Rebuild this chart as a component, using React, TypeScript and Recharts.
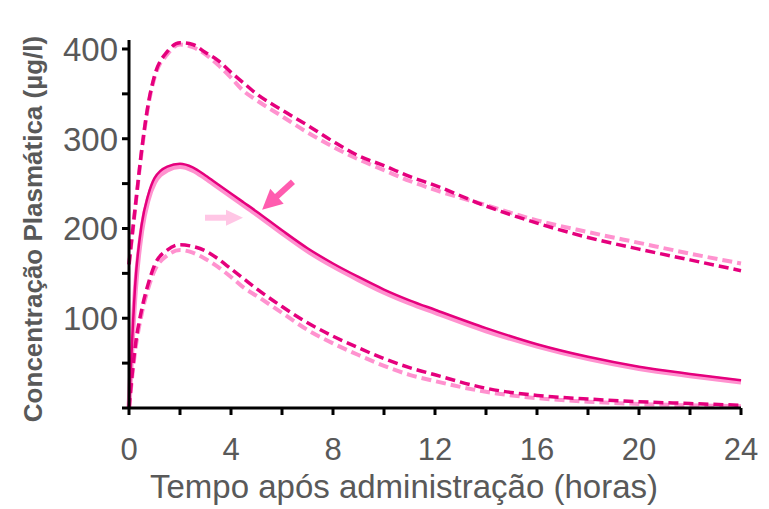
import React from 'react';
import { LineChart, Line, XAxis, YAxis, ReferenceLine } from 'recharts';

const hours = [0, 0.25, 0.5, 0.75, 1, 1.5, 2, 2.5, 3, 3.5, 4, 4.5, 5, 6, 7, 8, 9, 10, 11, 12, 14, 16, 18, 20, 22, 24];
const meanDark = [0, 140, 205, 237, 256, 269, 272, 268, 259, 249, 239, 229, 219, 198, 178, 161, 146, 132, 120, 109.5, 89, 71, 57, 46, 38, 31];
const meanLight = [0, 132, 198, 232, 251, 265, 269, 265, 256, 246, 236, 226, 216, 195, 175, 158, 143, 129, 117, 106.5, 86, 69, 55, 44, 36, 29];
const upperDark = [160, 225, 288, 338, 370, 397, 407, 405, 396, 387, 374, 362, 350, 332, 315, 297, 281, 270, 258, 248, 225, 206, 190, 177, 165, 153];
const upperLight = [160, 224, 286, 336, 368, 394, 405, 402, 394, 382, 368, 353, 343, 325, 307, 291, 277, 265, 253, 243, 226, 209, 196, 184, 172, 161];
const lowerDark = [0, 70, 110, 138, 159, 176, 182, 180, 175, 166, 155, 144, 133, 113, 95, 80, 67, 55, 45, 37, 22, 14, 10, 7, 5, 3];
const lowerLight = [0, 65, 105, 133, 153, 170, 176, 173, 166, 157, 146, 134, 125, 106, 87, 72, 59, 47, 37, 30, 18, 11, 7, 4.5, 3, 2];

const xTicks = [0, 2, 4, 6, 8, 10, 12, 14, 16, 18, 20, 22, 24];
const xLabelled = [0, 4, 8, 12, 16, 20, 24];
const yTicks = [0, 50, 100, 150, 200, 250, 300, 350, 400];
const yLabelled = [100, 200, 300, 400];

// arrows, in data units: [from, to]
const darkArrow = [{ x: 6.43, y: 252 }, { x: 5.22, y: 221 }];
const lightArrow = [{ x: 2.98, y: 212 }, { x: 4.47, y: 212 }];

const data = hours.map((t, i) => ({
  t,
  meanDark: meanDark[i],
  meanLight: meanLight[i],
  upperDark: upperDark[i],
  upperLight: upperLight[i],
  lowerDark: lowerDark[i],
  lowerLight: lowerLight[i],
}));

const DARK = '#e5007d';
const LIGHT = '#ff92cf';
const TEXT = '#595959';
const FONT = '"Liberation Sans", Arial, sans-serif';

const XTick = (props: any) => {
  const { x, y, payload } = props;
  if (!xLabelled.includes(payload.value)) return <g />;
  return (
    <text x={x} y={y + 43} textAnchor="middle" fontSize={31} fill={TEXT} fontFamily={FONT}>
      {payload.value}
    </text>
  );
};

const YTick = (props: any) => {
  const { x, y, payload } = props;
  if (!yLabelled.includes(payload.value)) return <g />;
  return (
    <text x={x - 2} y={y + 12} textAnchor="end" fontSize={33} fill={TEXT} fontFamily={FONT}>
      {payload.value}
    </text>
  );
};

const makeArrow = (color: string, shaft: number, head: number, half: number) => (p: any) => {
  const { x1, y1, x2, y2 } = p;
  if (x1 == null || x2 == null) return <g />;
  const dx = x2 - x1;
  const dy = y2 - y1;
  const len = Math.hypot(dx, dy) || 1;
  const ux = dx / len;
  const uy = dy / len;
  const bx = x2 - ux * head;
  const by = y2 - uy * head;
  const nx = -uy;
  const ny = ux;
  return (
    <g>
      <line x1={x1} y1={y1} x2={bx + ux} y2={by + uy} stroke={color} strokeWidth={shaft} />
      <polygon
        points={`${x2},${y2} ${bx + nx * half},${by + ny * half} ${bx - nx * half},${by - ny * half}`}
        fill={color}
      />
    </g>
  );
};

export default function App() {
  return (
    <div style={{ position: 'absolute', left: 0, top: 0, background: '#fff' }}>
      <LineChart width={769} height={509} data={data} margin={{ top: 40, right: 28, bottom: 41, left: 59 }}>
        <XAxis
          dataKey="t"
          type="number"
          domain={[0, 24]}
          ticks={xTicks}
          interval={0}
          height={60}
          tickSize={7}
          axisLine={{ stroke: '#000', strokeWidth: 3 }}
          tickLine={{ stroke: '#000', strokeWidth: 3 }}
          tick={<XTick />}
          label={{
            content: (p: any) => {
              const vb = p.viewBox || { x: 129, width: 612 };
              return (
                <text x={vb.x + vb.width / 2 - 31} y={498} textAnchor="middle" fontSize={33} fill={TEXT} fontFamily={FONT}>
                  Tempo após administração (horas)
                </text>
              );
            },
          }}
        />
        <YAxis
          type="number"
          domain={[0, 410]}
          ticks={yTicks}
          interval={0}
          width={70}
          tickSize={7}
          axisLine={{ stroke: '#000', strokeWidth: 3 }}
          tickLine={{ stroke: '#000', strokeWidth: 3 }}
          tick={<YTick />}
          label={{
            content: () => (
              <text
                x={42}
                y={229}
                transform="rotate(-90, 42, 229)"
                textAnchor="middle"
                fontSize={26}
                fontWeight="bold"
                fill={TEXT}
                fontFamily={FONT}
              >
                Concentração Plasmática (µg/l)
              </text>
            ),
          }}
        />
        <Line type="monotone" dataKey="upperLight" stroke={LIGHT} strokeWidth={4} strokeDasharray="10 5" dot={false} activeDot={false} isAnimationActive={false} />
        <Line type="monotone" dataKey="lowerLight" stroke={LIGHT} strokeWidth={4} strokeDasharray="10 5" dot={false} activeDot={false} isAnimationActive={false} />
        <Line type="monotone" dataKey="meanLight" stroke={LIGHT} strokeWidth={5} dot={false} activeDot={false} isAnimationActive={false} />
        <Line type="monotone" dataKey="upperDark" stroke={DARK} strokeWidth={3.5} strokeDasharray="10 5" dot={false} activeDot={false} isAnimationActive={false} />
        <Line type="monotone" dataKey="lowerDark" stroke={DARK} strokeWidth={3.5} strokeDasharray="10 5" dot={false} activeDot={false} isAnimationActive={false} />
        <Line type="monotone" dataKey="meanDark" stroke={DARK} strokeWidth={2.5} dot={false} activeDot={false} isAnimationActive={false} />
        <ReferenceLine segment={darkArrow} shape={makeArrow('#ff5caf', 6, 20, 10)} />
        <ReferenceLine segment={lightArrow} shape={makeArrow('#ffc6e5', 6, 17, 8)} />
      </LineChart>
    </div>
  );
}
